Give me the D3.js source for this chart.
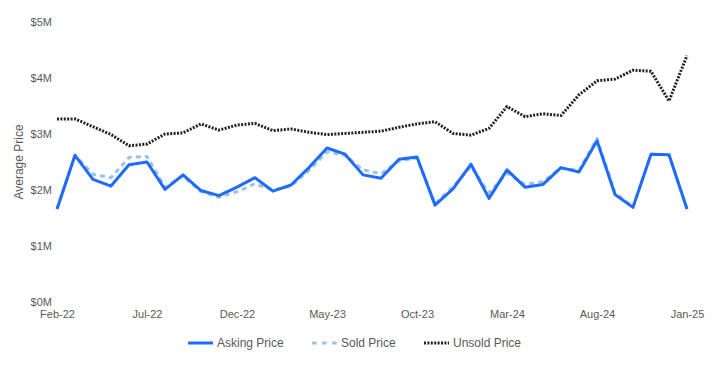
<!DOCTYPE html>
<html>
<head>
<meta charset="utf-8">
<script src="https://cdn.jsdelivr.net/npm/d3@7"></script>
<style>
  html, body { margin: 0; padding: 0; background: #fff; }
  svg { display: block; font-family: "Liberation Sans", Arial, sans-serif; }
</style>
</head>
<body>
<svg id="chart" width="718" height="367"></svg>
<script>
const months = ["Feb-22","Mar-22","Apr-22","May-22","Jun-22","Jul-22","Aug-22","Sep-22","Oct-22","Nov-22","Dec-22","Jan-23",
  "Feb-23","Mar-23","Apr-23","May-23","Jun-23","Jul-23","Aug-23","Sep-23","Oct-23","Nov-23","Dec-23","Jan-24",
  "Feb-24","Mar-24","Apr-24","May-24","Jun-24","Jul-24","Aug-24","Sep-24","Oct-24","Nov-24","Dec-24","Jan-25"];

const askingPrice = [1.66,2.62,2.19,2.07,2.45,2.50,2.01,2.27,1.99,1.90,2.05,2.22,
  1.98,2.09,2.40,2.75,2.64,2.27,2.21,2.55,2.59,1.73,2.02,2.46,
  1.85,2.36,2.05,2.10,2.40,2.32,2.88,1.92,1.69,2.64,2.63,1.66];

const soldPrice = [1.66,2.62,2.28,2.22,2.58,2.60,2.05,2.25,1.97,1.87,1.97,2.11,
  2.00,2.07,2.35,2.68,2.62,2.36,2.29,2.52,2.57,1.75,2.06,2.42,
  1.95,2.30,2.10,2.15,2.39,2.35,2.92,1.95,1.70,2.64,2.63,1.66];

const unsoldPrice = [3.27,3.27,3.13,2.99,2.79,2.82,3.00,3.02,3.18,3.07,3.16,3.19,
  3.06,3.09,3.03,2.99,3.01,3.03,3.05,3.12,3.18,3.22,3.01,2.98,
  3.10,3.49,3.31,3.36,3.33,3.70,3.95,3.98,4.14,4.12,3.59,4.40];

const xTickLabels = ["Feb-22","Jul-22","Dec-22","May-23","Oct-23","Mar-24","Aug-24","Jan-25"];
const yTicks = [0,1,2,3,4,5];

const seriesNames = ["Asking Price","Sold Price","Unsold Price"];
const seriesData = [askingPrice, soldPrice, unsoldPrice];

const styles = [
  {color:"#1f6bff", width:3, dash:null},
  {color:"#9dc3e6", width:3, dash:"5,4"},
  {color:"#222222", width:3, dash:"2,1.4"}
];

const svg = d3.select("#chart");
const plotLeft = 57, plotRight = 687, plotTop = 22, plotBottom = 302;

const x = d3.scalePoint().domain(months).range([plotLeft, plotRight]);
const y = d3.scaleLinear().domain([0,5]).range([plotBottom, plotTop]);

const textColor = "#595959";

// Y axis
const yAxis = d3.axisLeft(y).tickValues(yTicks).tickFormat(d => "$" + d + "M").tickSize(0).tickPadding(5);
const gy = svg.append("g").attr("transform", `translate(${plotLeft},0)`).call(yAxis);
gy.select(".domain").remove();
gy.selectAll("text").attr("fill", textColor).style("font-size","11px").style("font-family","Liberation Sans, Arial, sans-serif");

// X axis
const xAxis = d3.axisBottom(x).tickValues(xTickLabels).tickSize(0).tickPadding(8);
const gx = svg.append("g").attr("transform", `translate(0,${plotBottom})`).call(xAxis);
gx.select(".domain").remove();
gx.selectAll("text").attr("fill", textColor).style("font-size","11px").style("font-family","Liberation Sans, Arial, sans-serif");

// Y title
svg.append("text")
  .attr("transform", `translate(23,${(plotTop+plotBottom)/2}) rotate(-90)`)
  .attr("text-anchor","middle")
  .attr("fill", textColor)
  .style("font-size","12px")
  .text("Average Price");

const line = d3.line().x((d,i) => x(months[i])).y(d => y(d));

const order = [2,1,0];
order.forEach(k => {
  svg.append("path")
    .datum(seriesData[k])
    .attr("d", line)
    .attr("fill","none")
    .attr("stroke", styles[k].color)
    .attr("stroke-width", styles[k].width)
    .attr("stroke-dasharray", styles[k].dash)
    .attr("stroke-linejoin","round");
});

// Legend
const legendX = [188, 312, 424];
const legendY = 343;
seriesNames.forEach((name,k) => {
  const g = svg.append("g").attr("transform", `translate(${legendX[k]},${legendY})`);
  g.append("line").attr("x1",0).attr("x2",25).attr("y1",0).attr("y2",0)
    .attr("stroke", styles[k].color).attr("stroke-width",3)
    .attr("stroke-dasharray", k===1 ? "4.7,5.3" : styles[k].dash);
  g.append("text").attr("x",29).attr("y",4).attr("fill",textColor)
    .style("font-size","12px").text(name);
});
</script>
</body>
</html>
